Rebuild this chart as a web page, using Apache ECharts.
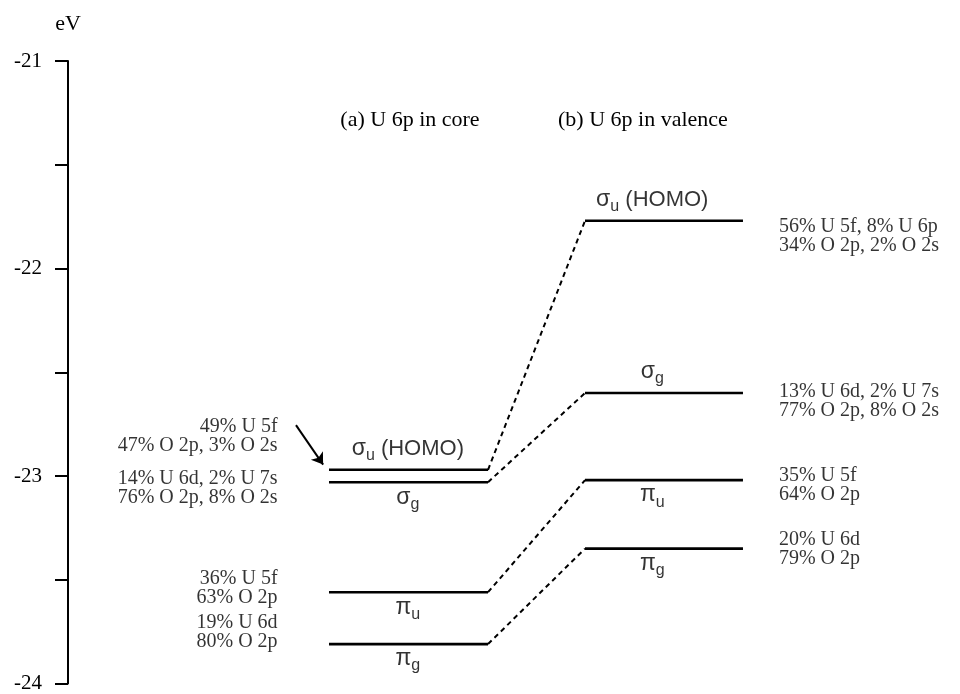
<!DOCTYPE html>
<html>
<head>
<meta charset="utf-8">
<script src="https://cdn.jsdelivr.net/npm/echarts@6/dist/echarts.min.js"></script>
<style>
  html, body { margin: 0; padding: 0; background: #ffffff; }
  #chart { width: 960px; height: 694px; }
</style>
</head>
<body>
<div id="chart"></div>
<script>
// Valence orbital energies of the uranyl ion (eV), two treatments of U 6p
const orbitalSymbols = ['σ', 'σ', 'π', 'π'];
const orbitalParity = ['u', 'g', 'u', 'g'];
const homoIndex = 0;
const coreEnergies = [-22.97, -23.03, -23.56, -23.81];
const valenceEnergies = [-21.77, -22.60, -23.02, -23.35];
const coreCompositions = [
  '49% U 5f\n47% O 2p, 3% O 2s',
  '14% U 6d, 2% U 7s\n76% O 2p, 8% O 2s',
  '36% U 5f\n63% O 2p',
  '19% U 6d\n80% O 2p'
];
const valenceCompositions = [
  '56% U 5f, 8% U 6p\n34% O 2p, 2% O 2s',
  '13% U 6d, 2% U 7s\n77% O 2p, 8% O 2s',
  '35% U 5f\n64% O 2p',
  '20% U 6d\n79% O 2p'
];
const panelTitles = ['(a) U 6p in core', '(b) U 6p in valence'];
const axisUnit = 'eV';
const axisMin = -24, axisMax = -21, axisStep = 0.5;

// ---- layout (horizontal units 0..100 across the plot) ----
const coreSpan = [29.26, 47.09];
const valenceSpan = [57.96, 75.67];
const coreMid = 38.1, valenceMid = 65.5;
const coreTextX = 23.5, valenceTextX = 79.7;
// vertical anchors (energy units) of the composition text blocks
const coreTextAt = [-22.81, -23.058, -23.543, -23.752];
const valenceTextAt = [-21.844, -22.642, -23.043, -23.351];
const coreNameSide = ['top', 'bottom', 'bottom', 'bottom'];
const valenceNameSide = ['top', 'top', 'bottom', 'bottom'];
// arrow from the HOMO composition text to the core HOMO level
const arrowFrom = [25.56, -22.755];
const arrowTo = [28.6, -22.945];

const INK = '#000000';
const SERIF = "'Liberation Serif', 'Times New Roman', serif";
const SANS = "'Liberation Sans', Arial, sans-serif";

const series = [];

// horizontal energy levels
function addLevels(energies, span) {
  energies.forEach(e => {
    series.push({
      type: 'line', silent: true, symbol: 'none', animation: false,
      data: [[span[0], e], [span[1], e]],
      lineStyle: { color: INK, width: 2.6 }
    });
  });
}
addLevels(coreEnergies, coreSpan);
addLevels(valenceEnergies, valenceSpan);

// dashed correlation lines between the two treatments
coreEnergies.forEach((e, i) => {
  series.push({
    type: 'line', silent: true, symbol: 'none', animation: false,
    data: [[coreSpan[1], e], [valenceSpan[0], valenceEnergies[i]]],
    lineStyle: { color: INK, width: 2, type: [5, 4] }
  });
});

// orbital symmetry labels
const nameRich = {
  g: { fontFamily: SANS, fontSize: 23, color: INK },
  s: { fontFamily: SANS, fontSize: 16, color: INK, padding: [14, 0, 0, 0] },
  t: { fontFamily: SANS, fontSize: 22, color: INK }
};
function nameText(i) {
  return '{g|' + orbitalSymbols[i] + '}{s|' + orbitalParity[i] + '}' +
    (i === homoIndex ? '{t| (HOMO)}' : '');
}
function addNames(energies, mid, sides) {
  series.push({
    type: 'scatter', silent: true, symbolSize: 0, animation: false,
    data: energies.map((e, i) => ({
      value: [mid, e],
      label: {
        verticalAlign: sides[i] === 'top' ? 'bottom' : 'top',
        offset: [0, sides[i] === 'top' ? -6 : 0]
      }
    })),
    label: {
      show: true, position: [0, 0], align: 'center',
      formatter: p => nameText(p.dataIndex),
      rich: nameRich
    }
  });
}
addNames(coreEnergies, coreMid, coreNameSide);
addNames(valenceEnergies, valenceMid, valenceNameSide);

// composition text blocks
function addCompositions(texts, anchors, x, align) {
  series.push({
    type: 'scatter', silent: true, symbolSize: 0, animation: false,
    data: anchors.map(a => [x, a]),
    label: {
      show: true, position: [0, 0], align: align, verticalAlign: 'middle',
      formatter: p => texts[p.dataIndex],
      fontFamily: SERIF, fontSize: 20, lineHeight: 19, color: INK
    }
  });
}
addCompositions(coreCompositions, coreTextAt, coreTextX, 'right');
addCompositions(valenceCompositions, valenceTextAt, valenceTextX, 'left');

// pointer arrow
series.push({
  type: 'lines', coordinateSystem: 'cartesian2d', silent: true, animation: false,
  symbol: ['none', 'arrow'], symbolSize: 11,
  lineStyle: { color: INK, width: 2, opacity: 1, curveness: 0 },
  data: [{ coords: [arrowFrom, arrowTo] }]
});

const chart = echarts.init(document.getElementById('chart'), null, { renderer: 'canvas' });
chart.setOption({
  backgroundColor: '#ffffff',
  animation: false,
  grid: { left: 68, right: 0, top: 61, bottom: 9, containLabel: false },
  xAxis: { type: 'value', min: 0, max: 100, show: false },
  yAxis: {
    type: 'value', min: axisMin, max: axisMax, interval: axisStep,
    name: axisUnit, nameLocation: 'end', nameGap: 26,
    nameTextStyle: { fontFamily: SERIF, fontSize: 22, color: INK, align: 'center' },
    axisLine: { show: true, lineStyle: { color: INK, width: 2 } },
    axisTick: { show: true, length: 13, lineStyle: { color: INK, width: 2 } },
    axisLabel: {
      margin: 26, fontFamily: SERIF, fontSize: 21, color: INK,
      formatter: v => (Number.isInteger(v) ? String(v) : '')
    },
    splitLine: { show: false }
  },
  graphic: [
    {
      type: 'text', x: 410, y: 120,
      style: { text: panelTitles[0], fontFamily: SERIF, fontSize: 22, fill: INK,
               textAlign: 'center', textVerticalAlign: 'middle' }
    },
    {
      type: 'text', x: 558, y: 120,
      style: { text: panelTitles[1], fontFamily: SERIF, fontSize: 22, fill: INK,
               textAlign: 'left', textVerticalAlign: 'middle' }
    }
  ],
  series: series
});
</script>
</body>
</html>
